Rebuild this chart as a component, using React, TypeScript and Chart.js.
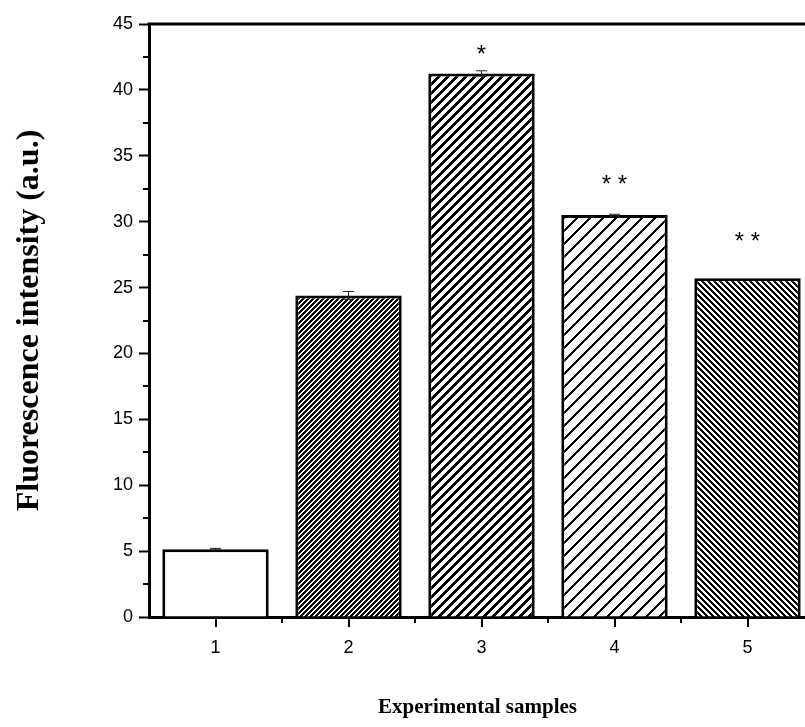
import React, { useEffect, useRef } from "react";
import { Chart, registerables } from "chart.js";

Chart.register(...registerables);

const categories = ["1", "2", "3", "4", "5"];
const values = [5.15, 24.4, 41.25, 30.5, 25.7];
const errors = [0.06, 0.3, 0.2, 0.06, 0];
const starLabels = ["", "", "*", "* *", "* *"];
const starValues = [null, null, 43.1, 33.2, 28.9];
const yMin = 0;
const yMax = 45;
const yStep = 5;
const yMinorStep = 2.5;
const yTitle = "Fluorescence intensity (a.u.)";
const xTitle = "Experimental samples";

// hatch spec per bar: [period, black run, direction] ; null = plain white
const hatchSpecs: Array<[number, number, string] | null> = [
  null,
  [5, 3, "/"],
  [9, 4, "/"],
  [13, 3, "/"],
  [6, 3, "\\"],
];

function makeHatch(p: number, k: number, dir: string): CanvasPattern | string {
  const c = document.createElement("canvas");
  c.width = p;
  c.height = p;
  const ctx = c.getContext("2d");
  if (!ctx) return "#fff";
  const img = ctx.createImageData(p, p);
  for (let y = 0; y < p; y++) {
    for (let x = 0; x < p; x++) {
      const t = dir === "/" ? (x + y) % p : (((x - y) % p) + p) % p;
      const black = t < k;
      const i = (y * p + x) * 4;
      const v = black ? 0 : 255;
      img.data[i] = v;
      img.data[i + 1] = v;
      img.data[i + 2] = v;
      img.data[i + 3] = 255;
    }
  }
  ctx.putImageData(img, 0, 0);
  const pat = ctx.createPattern(c, "repeat");
  return pat || "#000";
}

const extrasPlugin = {
  id: "extras",
  afterDraw(chart: any) {
    const ctx = chart.ctx;
    const ys = chart.scales.y;
    const xs = chart.scales.x;
    const area = chart.chartArea;
    const meta = chart.getDatasetMeta(0);
    ctx.save();
    // error bars
    ctx.strokeStyle = "#222";
    ctx.lineWidth = 1;
    meta.data.forEach((el: any, i: number) => {
      const e = errors[i];
      if (!e) return;
      const top = ys.getPixelForValue(values[i] + e);
      const bot = ys.getPixelForValue(values[i] - e);
      const x = el.x;
      ctx.beginPath();
      ctx.moveTo(x, top);
      ctx.lineTo(x, bot);
      ctx.moveTo(x - 5.5, top);
      ctx.lineTo(x + 5.5, top);
      ctx.moveTo(x - 5.5, bot);
      ctx.lineTo(x + 5.5, bot);
      ctx.stroke();
    });
    // stars
    ctx.fillStyle = "#000";
    ctx.font = "24px 'Liberation Sans', Arial, sans-serif";
    ctx.textAlign = "center";
    ctx.textBaseline = "alphabetic";
    meta.data.forEach((el: any, i: number) => {
      const s = starLabels[i];
      const v = starValues[i];
      if (!s || v == null) return;
      const m = ctx.measureText("*");
      const asc = m.actualBoundingBoxAscent;
      const desc = m.actualBoundingBoxDescent;
      const cy = ys.getPixelForValue(v);
      const base = cy + (asc - desc) / 2;
      ctx.fillText(s, el.x, base);
    });
    // top frame
    ctx.strokeStyle = "#000";
    ctx.lineWidth = 3;
    ctx.beginPath();
    ctx.moveTo(area.left - 1.5, area.top);
    ctx.lineTo(area.right, area.top);
    ctx.stroke();
    // major ticks x and minor ticks
    ctx.lineWidth = 2;
    ctx.beginPath();
    for (let i = 0; i < categories.length; i++) {
      const x = Math.round(xs.getPixelForValue(i));
      ctx.moveTo(x, area.bottom);
      ctx.lineTo(x, area.bottom + 10);
    }
    for (let v = yMin + yMinorStep; v < yMax; v += yStep) {
      const y = Math.round(ys.getPixelForValue(v));
      ctx.moveTo(area.left - 6, y);
      ctx.lineTo(area.left, y);
    }
    const half = (xs.getPixelForValue(1) - xs.getPixelForValue(0)) / 2;
    for (let i = 0; i < categories.length - 1; i++) {
      const x = Math.round(xs.getPixelForValue(i) + half);
      ctx.moveTo(x, area.bottom);
      ctx.lineTo(x, area.bottom + 6);
    }
    ctx.stroke();
    // axis titles
    ctx.fillStyle = "#000";
    ctx.textAlign = "center";
    ctx.textBaseline = "alphabetic";
    ctx.font = "bold 21px 'Liberation Serif', 'Times New Roman', serif";
    ctx.fillText(xTitle, (area.left + area.right) / 2 - 4, 713);
    ctx.save();
    ctx.translate(38, (area.top + area.bottom) / 2);
    ctx.rotate(-Math.PI / 2);
    ctx.font = "bold 32px 'Liberation Serif', 'Times New Roman', serif";
    ctx.fillText(yTitle, 0, 0);
    ctx.restore();
    ctx.restore();
  },
};

export default function App() {
  const ref = useRef<HTMLCanvasElement | null>(null);
  useEffect(() => {
    if (!ref.current) return;
    const bg = hatchSpecs.map((h) => (h ? makeHatch(h[0], h[1], h[2]) : "#fff"));
    const chart = new Chart(ref.current, {
      type: "bar",
      data: {
        labels: categories,
        datasets: [
          {
            data: values,
            backgroundColor: bg as any,
            borderColor: "#000",
            borderWidth: 3,
            barPercentage: 0.8,
            categoryPercentage: 1.0,
          },
        ],
      },
      options: {
        animation: false,
        responsive: false,
        devicePixelRatio: 1,
        layout: { padding: { top: 24, right: 86, left: 0, bottom: 0 } },
        plugins: { legend: { display: false }, tooltip: { enabled: false } },
        scales: {
          x: {
            offset: true,
            grid: { display: false },
            border: { display: true, color: "#000", width: 3 },
            ticks: {
              color: "#000",
              padding: 12,
              font: { family: "'Liberation Sans', Arial, sans-serif", size: 18 },
              maxRotation: 0,
            },
            title: { display: false },
            afterFit(scale: any) {
              scale.height = 110;
            },
          },
          y: {
            min: yMin,
            max: yMax,
            grid: {
              drawOnChartArea: false,
              drawTicks: true,
              tickLength: 10,
              tickColor: "#000",
              tickWidth: 2,
            },
            border: { display: true, color: "#000", width: 3 },
            ticks: {
              stepSize: yStep,
              color: "#000",
              padding: 6,
              font: { family: "'Liberation Sans', Arial, sans-serif", size: 18 },
            },
            title: { display: false },
            afterFit(scale: any) {
              scale.width = 149;
            },
          },
        },
      },
      plugins: [extrasPlugin],
    });
    return () => chart.destroy();
  }, []);
  return (
    <div style={{ position: "fixed", left: 0, top: 0, width: 805, height: 727, overflow: "hidden", background: "#fff" }}>
      <canvas ref={ref} width={900} height={727} style={{ display: "block", width: 900, height: 727 }} />
    </div>
  );
}
